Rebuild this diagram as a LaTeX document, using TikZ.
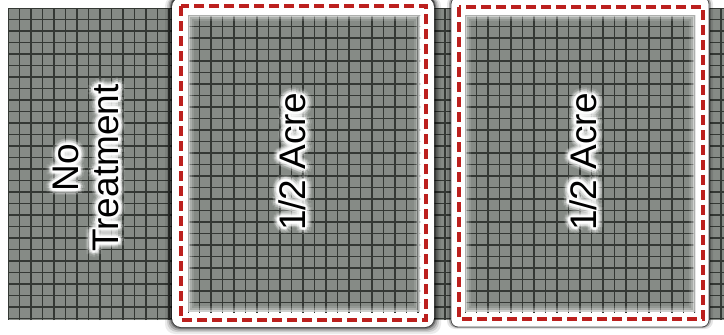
\documentclass[tikz,border=0pt]{standalone}
\usepackage{fontspec}
\setmainfont{Liberation Sans}
\usetikzlibrary{calc}
\definecolor{gfill}{RGB}{134,139,134}
\definecolor{gline}{RGB}{52,56,52}
\definecolor{rdash}{RGB}{188,32,30}
\newcommand\glowlabel[3]{%
  \foreach \a in {0,30,...,330}{%
    \foreach \r/\o in {7/0.12,5/0.25,3/0.5,1.5/0.8}{%
      \node[lbl,white,text opacity=\o] at ($(#2)+(\a:\r)$) {#3};}}
  \node[lbl] (#1) at (#2) {#3};}
\begin{document}
\begin{tikzpicture}[x=1pt,y=-1pt,
  gridln/.style={draw=gline, line width=1.25pt},
  reddash/.style={draw=rdash, line width=3.3pt, dash pattern=on 10pt off 5pt},
  lbl/.style={font=\fontsize{37}{40}\selectfont, rotate=90, align=center, inner sep=0pt, text=black}]
\useasboundingbox (0,0) rectangle (724,335);
% background grid
\fill[gfill] (8,8) rectangle (724,320);
\begin{scope}[shift={(8,8)}]
  \clip (0,0) rectangle (716,312);
  \draw[gridln, step=11.5pt] (0,0) grid (716,312);
\end{scope}
% middle plot: shadow + white rim
\foreach \d/\o in {7/0.08,5/0.12,3.5/0.18,2/0.3,1/0.45}{%
  \fill[black, opacity=\o, rounded corners=10] (172-\d,-4) rectangle (434+\d,327+\d);}
\fill[white, rounded corners=9] (172,-2) rectangle (434,327);
% right plot: small shadow + white rim
\foreach \d/\o in {4/0.1,2/0.25}{%
  \fill[black, opacity=\o, rounded corners=8] (451-\d,-4) rectangle (709+\d,327+0.5*\d);}
\fill[white, draw=black!70, line width=0.8pt, rounded corners=7] (451,-3) rectangle (709,327);
% inner grids
\foreach \xa/\xb in {188/420,465/695}{%
  \fill[gfill] (\xa,15) rectangle (\xb,312);
  \begin{scope}
    \clip (\xa,15) rectangle (\xb,312);
    \begin{scope}[shift={(\xa,15)}]
      \draw[gridln, step=11.5pt] (-1,-1) grid (240,300);
    \end{scope}
  \end{scope}
  \foreach \d/\o in {1/0.6,3/0.3,5/0.12}{%
    \draw[white, opacity=\o, line width=2pt] (\xa+\d,15+\d) rectangle (\xb-\d,312-\d);}
}
% red dashed borders
\draw[reddash] (181,6) rectangle (426,320);
\draw[reddash] (459,7) rectangle (703,319);
% labels
\coordinate (p1) at (86,168);
\coordinate (p2) at (292,162);
\coordinate (p3) at (583,162);
\glowlabel{lno}{p1}{No\\Treatment}
\glowlabel{la}{p2}{1/2 Acre}
\glowlabel{lb}{p3}{1/2 Acre}
\end{tikzpicture}
\end{document}
